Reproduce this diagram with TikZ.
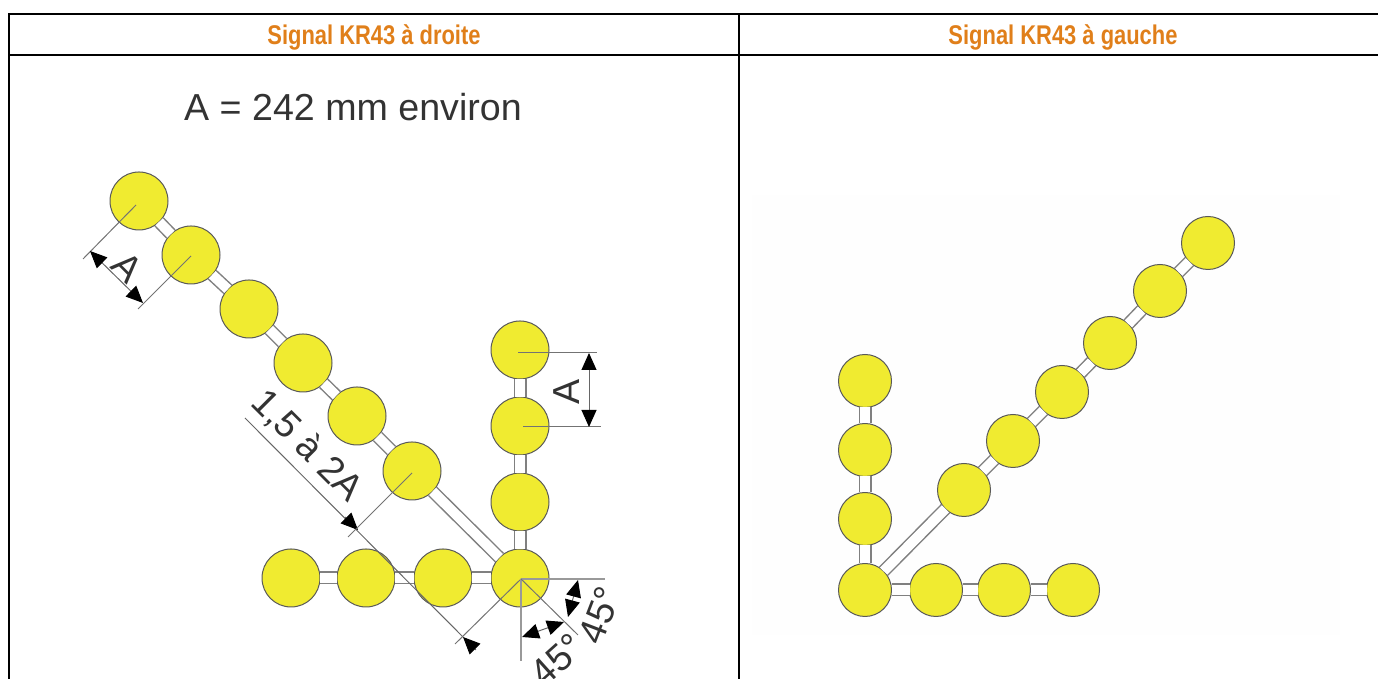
\documentclass[tikz,border=0pt]{standalone}
\usepackage{fontspec}
\setmainfont{Liberation Sans}
\newfontfamily\headfont[FakeStretch=.81]{Liberation Sans Bold}
\usepackage{tikz}
\usetikzlibrary{arrows.meta}
\definecolor{lampyellow}{HTML}{F0EB30}
\definecolor{headorange}{HTML}{E07F1A}
\definecolor{inkgray}{HTML}{333333}
\tikzset{>={Triangle[length=1.7mm,width=1.5mm,black]}}
\tikzset{
  lamp/.style={circle, draw=black!65, fill=lampyellow, line width=.1mm, inner sep=0pt, outer sep=0pt, minimum size=5.8mm},
  smalllamp/.style={lamp, minimum size=5.3mm},
  rail/.style={draw=black!50, double=white, double distance=1mm, line width=.15mm},
  leader/.style={draw=black!55, line width=.1mm},
  axisline/.style={draw=black!40, line width=.2mm},
  dim/.style={draw=black!60, line width=.1mm},
  headtext/.style={font=\headfont\fontsize{7.7pt}{9pt}\selectfont, text=headorange},
  dimtext/.style={font=\fontsize{10.7pt}{12pt}\selectfont, text=inkgray, inner sep=0pt}
}

\begin{document}
\begin{tikzpicture}[x=.1mm, y=-.1mm]
      \useasboundingbox (0, 0) rectangle (1378, 679);
      % table
      \fill[black!.5] (752, 195) rectangle (1340, 635);
      \draw[line width=.25mm] (1378, 14) -- (9, 14) -- (9, 679);
      \draw[line width=.25mm] (9, 55) -- (1378, 55);
      \draw[line width=.25mm] (739, 14) -- (739, 679);
      \node[headtext] (headleft) at (374, 37) {Signal KR43 à droite};
      \node[headtext] (headright) at (1063, 37) {Signal KR43 à gauche};
      \node[dimtext] (note) at (353, 107) {A = 242 mm environ};
      % left signal, lamps
      \node[lamp] (d1) at (139, 201) {};
      \node[lamp] (d2) at (191, 255) {};
      \node[lamp] (d3) at (249, 309) {};
      \node[lamp] (d4) at (303, 363) {};
      \node[lamp] (d5) at (357, 416) {};
      \node[lamp] (d6) at (412, 471) {};
      \node[lamp] (v1) at (520, 350) {};
      \node[lamp] (v2) at (520, 426) {};
      \node[lamp] (v3) at (520, 502) {};
      \node[lamp] (o) at (520, 578) {};
      \node[lamp] (h1) at (443, 578) {};
      \node[lamp] (h2) at (366, 578) {};
      \node[lamp] (h3) at (291, 578) {};
      % left signal, rails
      \draw[rail] (d1) -- (d2);
      \draw[rail] (d2) -- (d3);
      \draw[rail] (d3) -- (d4);
      \draw[rail] (d4) -- (d5);
      \draw[rail] (d5) -- (d6);
      \draw[rail] (d6) -- (o);
      \draw[rail] (v1) -- (v2);
      \draw[rail] (v2) -- (v3);
      \draw[rail] (v3) -- (o);
      \draw[rail] (o) -- (h1);
      \draw[rail] (h1) -- (h2);
      \draw[rail] (h2) -- (h3);
      % spacing on the diagonal
      \coordinate (a1) at (83, 259);
      \coordinate (a2) at (138, 309);
      \coordinate (a3) at (90, 251);
      \coordinate (a4) at (143, 303);
      \draw[leader] (136, 205) -- (a1);
      \draw[leader] (191, 256) -- (a2);
      \draw[dim, <->] (a3) -- (a4);
      \node[dimtext, rotate=-45] (dimdiag) at (128, 267) {A};
      % spacing on the vertical
      \coordinate (b1) at (597, 353);
      \coordinate (b2) at (601, 427);
      \coordinate (b3) at (589, 353);
      \coordinate (b4) at (589, 427);
      \draw[leader] (518, 353) -- (b1);
      \draw[leader] (523, 427) -- (b2);
      \draw[dim, <->] (b3) -- (b4);
      \node[dimtext, rotate=90] (dimvert) at (567, 392) {A};
      % distance to the first lamp
      \coordinate (c1) at (245, 418);
      \coordinate (c2) at (358, 530);
      \coordinate (c3) at (463, 637);
      \coordinate (c4) at (476, 650);
      \draw[dim] (c1) -- (c3);
      \draw[dim, ->] (345, 517) -- (c2);
      \draw[dim, ->] (c4) -- (c3);
      \draw[leader] (412, 473) -- (348, 537);
      \draw[leader] (521, 579) -- (455, 644);
      \node[dimtext, rotate=-45] (dimgap) at (307, 446) {1,5 à 2A};
      % angles
      \coordinate (e1) at (605, 579);
      \coordinate (e2) at (521, 661);
      \coordinate (e3) at (578, 635);
      \draw[axisline] (521, 579) -- (e1);
      \draw[axisline] (521, 579) -- (e2);
      \draw[leader] (521, 579) -- (e3);
      \draw[dim, <->] (522, 637) -- (564, 622);
      \draw[dim, <->] (568, 617) -- (578, 580);
      \node[dimtext, rotate=42] (anglea) at (557, 660) {45°};
      \node[dimtext, rotate=69] (angleb) at (600, 615) {45°};
      % right signal, lamps
      \node[smalllamp] (rv1) at (865, 381) {};
      \node[smalllamp] (rv2) at (865, 450) {};
      \node[smalllamp] (rv3) at (865, 519) {};
      \node[smalllamp] (ro) at (865, 590) {};
      \node[smalllamp] (rh1) at (936, 590) {};
      \node[smalllamp] (rh2) at (1004, 590) {};
      \node[smalllamp] (rh3) at (1073, 590) {};
      \node[smalllamp] (rd1) at (964, 490) {};
      \node[smalllamp] (rd2) at (1013, 441) {};
      \node[smalllamp] (rd3) at (1062, 392) {};
      \node[smalllamp] (rd4) at (1110, 343) {};
      \node[smalllamp] (rd5) at (1160, 291) {};
      \node[smalllamp] (rd6) at (1208, 243) {};
      % right signal, rails
      \draw[rail] (rv1) -- (rv2);
      \draw[rail] (rv2) -- (rv3);
      \draw[rail] (rv3) -- (ro);
      \draw[rail] (ro) -- (rh1);
      \draw[rail] (rh1) -- (rh2);
      \draw[rail] (rh2) -- (rh3);
      \draw[rail] (ro) -- (rd1);
      \draw[rail] (rd1) -- (rd2);
      \draw[rail] (rd2) -- (rd3);
      \draw[rail] (rd3) -- (rd4);
      \draw[rail] (rd4) -- (rd5);
      \draw[rail] (rd5) -- (rd6);
    \end{tikzpicture}
\end{document}
